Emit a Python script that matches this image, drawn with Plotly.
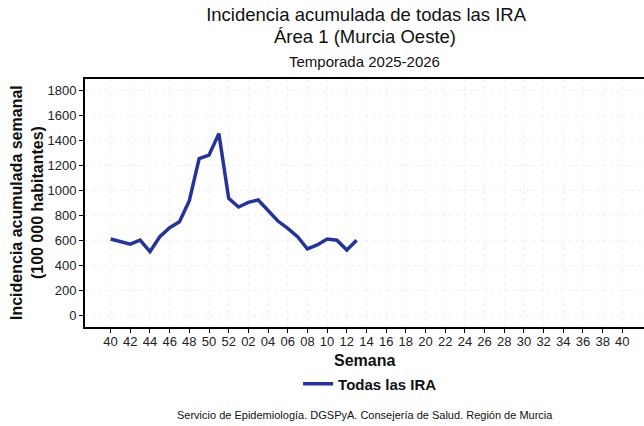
import plotly.graph_objects as go

weeks = ["40","41","42","43","44","45","46","47","48","49","50","51","52",
         "01","02","03","04","05","06","07","08","09","10","11","12","13"]
values = [613, 592, 571, 603, 512, 631, 703, 751, 918, 1255, 1282, 1454, 937,
          868, 905, 924, 838, 756, 698, 631, 533, 565, 613, 603, 525, 603]
tick_labels = ["40","42","44","46","48","50","52","02","04","06","08","10","12","14",
               "16","18","20","22","24","26","28","30","32","34","36","38","40"]
y_ticks = [0, 200, 400, 600, 800, 1000, 1200, 1400, 1600, 1800]

x_idx = list(range(len(weeks)))
tick_idx = [2 * i for i in range(len(tick_labels))]

FONT = "Liberation Sans, Arial, sans-serif"
fig = go.Figure()
fig.add_trace(go.Scatter(x=x_idx, y=values, mode="lines", name="Todas las IRA",
                         line=dict(color="#24349a", width=3.5), customdata=weeks))

def py(px):
    return (327 - px) / 248

fig.update_layout(
    width=644, height=426,
    margin=dict(l=85, r=0, t=79, b=99),
    paper_bgcolor="white", plot_bgcolor="white",
    font=dict(family=FONT, color="#111111"),
    title=dict(text="Incidencia acumulada de todas las IRA",
               x=0.5685, xanchor="center", y=1 - 15 / 426, yanchor="middle",
               font=dict(size=18.5, color="#111111")),
    showlegend=True,
    legend=dict(orientation="h", x=0.51, xanchor="center", y=-0.23, yanchor="middle",
                font=dict(size=15, color="#111111", family=FONT, weight="bold"),
                itemwidth=30),
    xaxis=dict(range=[-2.6, 54.2], tickmode="array", tickvals=tick_idx, ticktext=tick_labels,
               showline=True, linecolor="black", linewidth=2, mirror=True,
               ticks="outside", ticklen=4, tickcolor="black", tickwidth=1,
               tickfont=dict(size=13, color="#222222"), ticklabelstandoff=-3,
               showgrid=True, gridcolor="#f0f0f0", griddash="3px,4px", gridwidth=1,
               zeroline=False),
    yaxis=dict(range=[-90, 1890], tickmode="array", tickvals=y_ticks,
               showline=True, linecolor="black", linewidth=2,
               ticks="outside", ticklen=4, tickcolor="black", tickwidth=1,
               tickfont=dict(size=13, color="#222222"),
               showgrid=True, gridcolor="#f0f0f0", griddash="3px,4px", gridwidth=1,
               zeroline=False),
    annotations=[
        dict(text="Área 1 (Murcia Oeste)", xref="paper", yref="paper",
             x=0.5, y=py(37), xanchor="center", yanchor="middle",
             showarrow=False, font=dict(size=18.5, color="#111111")),
        dict(text="Temporada 2025-2026", xref="paper", yref="paper",
             x=0.5, y=py(61), xanchor="center", yanchor="middle",
             showarrow=False, font=dict(size=15, color="#111111")),
        dict(text="<b>Semana</b>", xref="paper", yref="paper",
             x=0.5, y=py(360), xanchor="center", yanchor="middle",
             showarrow=False, font=dict(size=16, color="#111111")),
        dict(text="<b>Incidencia acumulada semanal<br>(100 000 habitantes)</b>",
             textangle=-90, xref="paper", yref="paper", x=(27 - 85) / 559, y=0.5,
             xanchor="center", yanchor="middle", showarrow=False,
             font=dict(size=16, color="#111111")),
        dict(text="Servicio de Epidemiología. DGSPyA. Consejería de Salud. Región de Murcia",
             xref="paper", yref="paper", x=0.5, y=py(415),
             xanchor="center", yanchor="middle", showarrow=False,
             font=dict(size=11, color="#111111")),
    ],
)

fig.write_html("out.html", config={"displayModeBar": False},
               post_script="document.body.style.margin='0';")
